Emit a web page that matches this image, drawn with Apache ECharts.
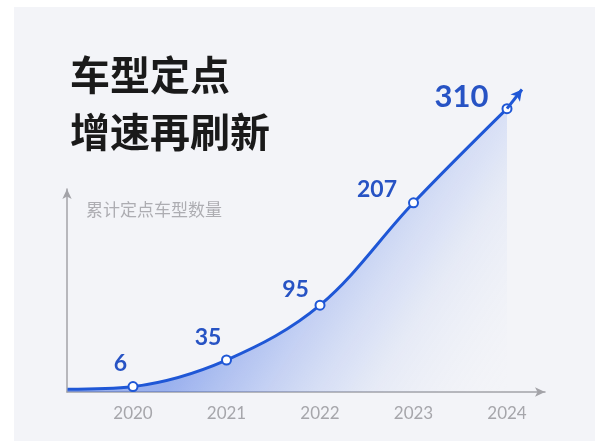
<!DOCTYPE html>
<html>
<head>
<meta charset="utf-8">
<script src="https://cdn.jsdelivr.net/npm/echarts@6/dist/echarts.min.js"></script>
<style>
  html, body { margin: 0; padding: 0; background: #ffffff; }
  #panel { position: absolute; left: 14px; top: 7px; right: 0; bottom: 2px; background: #f3f4f8; }
  #chart { position: absolute; left: 0; top: 0; width: 595px; height: 443px; }
</style>
</head>
<body>
<div id="panel"></div>
<div id="chart"></div>
<script>
// Cumulative number of designated vehicle models per year
const years = [2020, 2021, 2022, 2023, 2024];
const modelCounts = [6, 35, 95, 207, 310];
// Where the curve enters from the y axis, and where its arrow points past the last year
const curveStart = [2019.3, 3];
const arrowEnd = [2024.16, 331];
const titleLines = ['车型定点', '增速再刷新'];
const yAxisTitle = '累计定点车型数量';

// Label placement around each point (dx, dy in pixels from the point)
const labelShift = [[-11, -21], [-17, -21], [-23, -14], [-35, -12], [-44, -10]];

const BLUE = '#1f57d6';
const LABEL_BLUE = '#2753c4';

const points = years.map((y, i) => ({
  value: [y, modelCounts[i]],
  label: {
    position: [labelShift[i][0] + 4, labelShift[i][1] + 4],
    fontSize: i === years.length - 1 ? 31 : 23
  }
}));

const chart = echarts.init(document.getElementById('chart'), null, { renderer: 'canvas' });

chart.setOption({
  backgroundColor: 'transparent',
  animation: false,
  title: [
    {
      text: titleLines.join('\n'),
      left: 65, top: 41,
      textStyle: {
        fontFamily: 'Noto Sans CJK SC', fontWeight: 'bold',
        fontSize: 40, lineHeight: 57, color: '#1a1a1a'
      }
    },
    {
      text: yAxisTitle,
      left: 81, top: 196,
      textStyle: {
        fontFamily: 'Noto Sans CJK SC', fontWeight: 'normal',
        fontSize: 17, color: '#adadb2'
      }
    }
  ],
  grid: [
    // plotting area
    { left: 39.5, right: 41.25, top: 26.4, bottom: 51 },
    // axis frame with arrows
    { left: 67, right: 50, top: 189, bottom: 51 }
  ],
  xAxis: [
    {
      gridIndex: 0, type: 'value', min: 2019, max: 2024.5, interval: 1,
      axisLine: { show: false }, axisTick: { show: false }, splitLine: { show: false },
      axisLabel: {
        margin: 13, color: '#a6a6ab', fontSize: 17, fontFamily: 'Lato',
        formatter: v => (years.indexOf(v) >= 0 ? String(v) : '')
      }
    },
    {
      gridIndex: 1, type: 'value', min: 0, max: 1,
      axisLine: { show: true, symbol: ['none', 'arrow'], symbolSize: [7, 10],
        lineStyle: { color: '#a3a3a8', width: 1.5 } },
      axisTick: { show: false }, axisLabel: { show: false }, splitLine: { show: false }
    }
  ],
  yAxis: [
    {
      gridIndex: 0, type: 'value', min: 0, max: 400,
      axisLine: { show: false }, axisTick: { show: false },
      axisLabel: { show: false }, splitLine: { show: false }
    },
    {
      gridIndex: 1, type: 'value', min: 0, max: 1,
      axisLine: { show: true, symbol: ['none', 'arrow'], symbolSize: [7, 10],
        lineStyle: { color: '#a3a3a8', width: 1.5 } },
      axisTick: { show: false }, axisLabel: { show: false }, splitLine: { show: false }
    }
  ],
  series: [
    {
      type: 'line',
      xAxisIndex: 0, yAxisIndex: 0,
      smooth: 0.35,
      data: [{ value: curveStart, symbol: 'none', label: { show: false } }].concat(points),
      symbol: 'circle',
      symbolSize: 9,
      itemStyle: { color: '#ffffff', borderColor: BLUE, borderWidth: 2 },
      lineStyle: { color: BLUE, width: 3 },
      // glow that fades away from the curve towards the lower right
      areaStyle: {
        color: new echarts.graphic.LinearGradient(0, 0, 1, 1, [
          { offset: 0.45, color: 'rgba(40, 90, 225, 0.62)' },
          { offset: 0.62, color: 'rgba(60, 105, 230, 0.34)' },
          { offset: 0.8, color: 'rgba(100, 140, 235, 0.10)' },
          { offset: 1, color: 'rgba(243, 244, 248, 0)' }
        ])
      },
      label: {
        show: true,
        align: 'center', verticalAlign: 'middle',
        color: LABEL_BLUE, fontWeight: 'bold', fontFamily: 'Lato',
        formatter: p => String(p.value[1])
      },
      markLine: {
        silent: true,
        symbol: ['none', 'arrow'],
        symbolSize: [9, 11],
        label: { show: false },
        lineStyle: { color: BLUE, width: 3, type: 'solid' },
        data: [[{ coord: [years[years.length - 1], modelCounts[modelCounts.length - 1]] }, { coord: arrowEnd }]]
      },
      z: 3
    }
  ]
});
</script>
</body>
</html>
